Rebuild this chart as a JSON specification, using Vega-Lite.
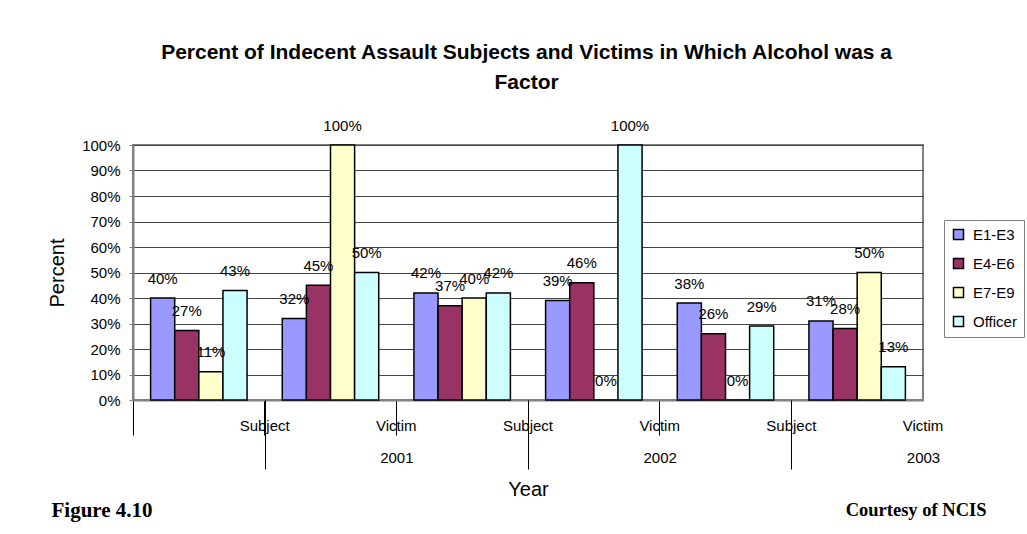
{
  "$schema": "https://vega.github.io/schema/vega-lite/v6.json",
  "padding": {"left": 46, "top": 41, "right": 4, "bottom": 10},
  "background": "white",
  "bounds": "flush",
  "spacing": 69,
  "config": {
    "font": "Liberation Sans",
    "view": {"stroke": "#808080", "strokeWidth": 2}
  },
  "title": {
    "text": ["Percent of Indecent Assault Subjects and Victims in Which Alcohol was a", "Factor"],
    "font": "Liberation Sans",
    "fontSize": 21,
    "fontWeight": "bold",
    "color": "black",
    "lineHeight": 30,
    "anchor": "middle",
    "offset": 25,
    "dx": -9
  },
  "vconcat": [
    {
      "width": 790,
      "height": 255,
      "data": {
        "values": [
          {"key": "2001 Subject", "series": "E1-E3", "value": 0.40},
          {"key": "2001 Subject", "series": "E4-E6", "value": 0.273},
          {"key": "2001 Subject", "series": "E7-E9", "value": 0.111},
          {"key": "2001 Subject", "series": "Officer", "value": 0.429},
          {"key": "2001 Victim", "series": "E1-E3", "value": 0.32},
          {"key": "2001 Victim", "series": "E4-E6", "value": 0.45},
          {"key": "2001 Victim", "series": "E7-E9", "value": 1.0},
          {"key": "2001 Victim", "series": "Officer", "value": 0.50},
          {"key": "2002 Subject", "series": "E1-E3", "value": 0.42},
          {"key": "2002 Subject", "series": "E4-E6", "value": 0.37},
          {"key": "2002 Subject", "series": "E7-E9", "value": 0.40},
          {"key": "2002 Subject", "series": "Officer", "value": 0.42},
          {"key": "2002 Victim", "series": "E1-E3", "value": 0.39},
          {"key": "2002 Victim", "series": "E4-E6", "value": 0.46},
          {"key": "2002 Victim", "series": "E7-E9", "value": 0.0},
          {"key": "2002 Victim", "series": "Officer", "value": 1.0},
          {"key": "2003 Subject", "series": "E1-E3", "value": 0.38},
          {"key": "2003 Subject", "series": "E4-E6", "value": 0.26},
          {"key": "2003 Subject", "series": "E7-E9", "value": 0.0},
          {"key": "2003 Subject", "series": "Officer", "value": 0.29},
          {"key": "2003 Victim", "series": "E1-E3", "value": 0.31},
          {"key": "2003 Victim", "series": "E4-E6", "value": 0.28},
          {"key": "2003 Victim", "series": "E7-E9", "value": 0.50},
          {"key": "2003 Victim", "series": "Officer", "value": 0.13}
        ]
      },
      "encoding": {
        "x": {
          "field": "key",
          "type": "nominal",
          "scale": {"paddingInner": 0, "paddingOuter": 0},
          "axis": {
            "orient": "bottom",
            "title": null,
            "labelExpr": "slice(datum.value, 5)",
            "bandPosition": 0,
            "labelOffset": 65.83,
            "tickSize": 35,
            "tickColor": "black",
            "tickWidth": 1,
            "labelPadding": -17,
            "labelFontSize": 15,
            "labelColor": "black",
            "labelAngle": 0,
            "domainColor": "#808080",
            "domainWidth": 2,
            "grid": false
          }
        },
        "xOffset": {
          "field": "series",
          "type": "nominal",
          "scale": {"paddingInner": 0, "paddingOuter": 0.73}
        },
        "y": {
          "field": "value",
          "type": "quantitative",
          "scale": {"domain": [0, 1], "nice": false},
          "axis": {
            "values": [0, 0.1, 0.2, 0.3, 0.4, 0.5, 0.6, 0.7, 0.8, 0.9, 1],
            "format": ".0%",
            "title": "Percent",
            "titleFontSize": 20,
            "titleFontWeight": "normal",
            "titleColor": "black",
            "titlePadding": 14,
            "labelFontSize": 15,
            "labelColor": "black",
            "tickSize": 4,
            "tickColor": "#808080",
            "labelPadding": 9,
            "gridColor": "#444444",
            "gridWidth": 1,
            "domainColor": "#808080",
            "domainWidth": 2
          }
        }
      },
      "layer": [
        {
          "mark": {"type": "bar", "stroke": "black", "strokeWidth": 1.5},
          "encoding": {
            "color": {
              "field": "series",
              "type": "nominal",
              "scale": {
                "domain": ["E1-E3", "E4-E6", "E7-E9", "Officer"],
                "range": ["#9999FF", "#993366", "#FFFFCC", "#CCFFFF"]
              },
              "legend": {
                "title": null,
                "orient": "none",
                "legendX": 811,
                "legendY": 75,
                "strokeColor": "#808080",
                "fillColor": "white",
                "padding": 7,
                "symbolType": "square",
                "symbolSize": 100,
                "symbolStrokeColor": "black",
                "symbolStrokeWidth": 1.5,
                "labelFontSize": 15,
                "labelColor": "black",
                "labelOffset": 7,
                "rowPadding": 12
              }
            }
          }
        },
        {
          "mark": {"type": "text", "baseline": "alphabetic", "dy": -14.5, "fontSize": 15, "color": "black"},
          "encoding": {
            "text": {"field": "value", "type": "quantitative", "format": ".0%"}
          }
        }
      ]
    },
    {
      "width": 790,
      "height": 1,
      "view": {"stroke": null},
      "data": {"values": [{"year": "2001"}, {"year": "2002"}, {"year": "2003"}]},
      "layer": [
        {
          "mark": {"type": "point", "opacity": 0},
          "encoding": {
            "x": {
              "field": "year",
              "type": "nominal",
              "scale": {"paddingInner": 0, "paddingOuter": 0},
              "axis": {
                "orient": "top",
                "title": "Year",
                "titleFontSize": 20,
                "titleFontWeight": "normal",
                "titleColor": "black",
                "titleY": 20,
                "titleBaseline": "middle",
                "bandPosition": 0,
                "labelOffset": 131.67,
                "tickSize": 69,
                "tickColor": "black",
                "tickWidth": 1,
                "labelBaseline": "middle",
                "labelPadding": -57,
                "labelFontSize": 15,
                "labelColor": "black",
                "labelAngle": 0,
                "domain": false,
                "grid": false
              }
            },
            "y": {
              "field": "year",
              "type": "nominal",
              "axis": {
                "orient": "left",
                "title": "Figure 4.10",
                "titleFont": "Liberation Serif",
                "titleFontSize": 21,
                "titleFontWeight": "bold",
                "titleColor": "black",
                "titleAngle": 0,
                "titleAlign": "left",
                "titleBaseline": "middle",
                "titleX": -82,
                "titleY": 41,
                "labels": false,
                "ticks": false,
                "domain": false,
                "grid": false
              }
            }
          }
        },
        {
          "mark": {"type": "point", "opacity": 0},
          "encoding": {
            "y": {
              "field": "year",
              "type": "nominal",
              "axis": {
                "orient": "right",
                "title": "Courtesy of NCIS",
                "titleFont": "Liberation Serif",
                "titleFontSize": 18.5,
                "titleFontWeight": "bold",
                "titleColor": "black",
                "titleAngle": 0,
                "titleAlign": "right",
                "titleBaseline": "middle",
                "titleX": 63,
                "titleY": 40,
                "labels": false,
                "ticks": false,
                "domain": false,
                "grid": false
              }
            }
          }
        }
      ],
      "resolve": {"scale": {"y": "independent"}, "axis": {"y": "independent"}}
    }
  ]
}
